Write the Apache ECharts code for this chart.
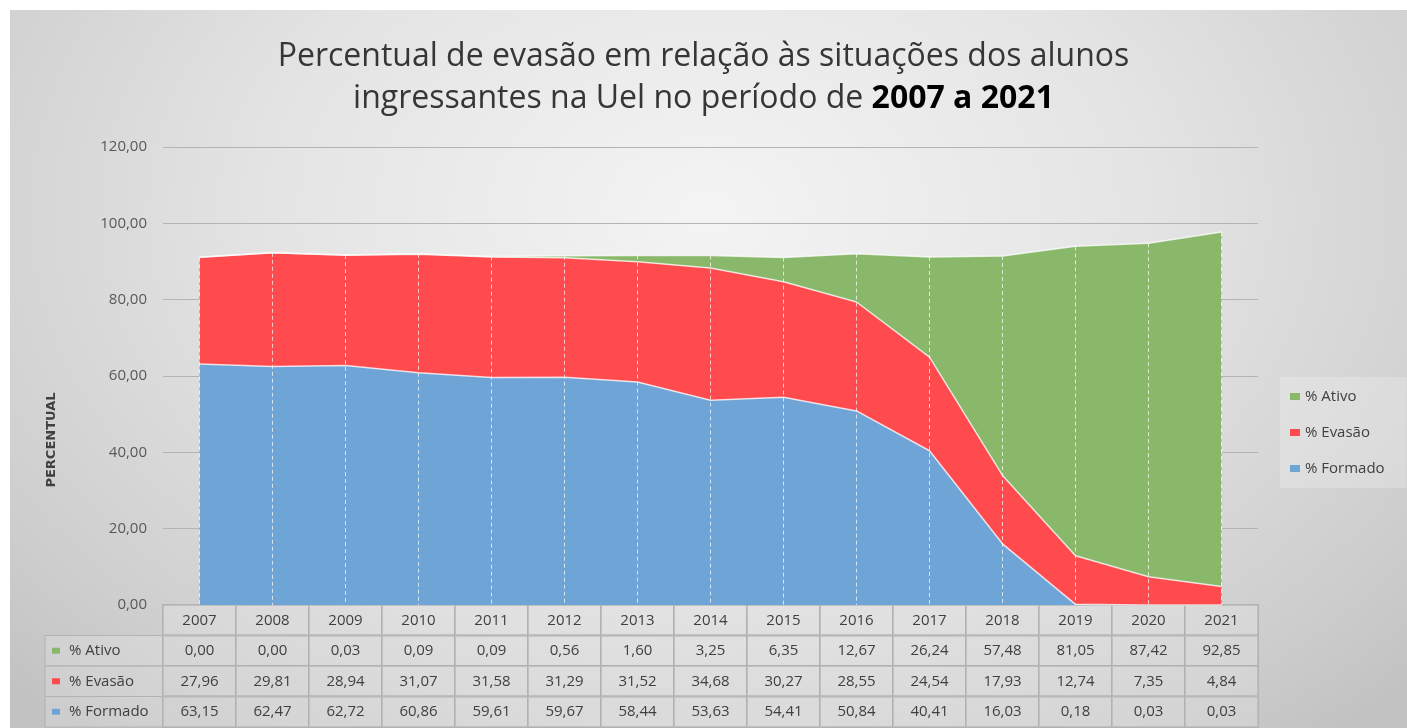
<!DOCTYPE html>
<html>
<head>
<meta charset="utf-8">
<script src="https://cdn.jsdelivr.net/npm/echarts@6.0.0/dist/echarts.min.js"></script>
<style>
  html, body { margin: 0; padding: 0; background: #fff; }
  #fundo {
    position: absolute; left: 10px; top: 10px; width: 1397px; height: 718px;
    background: radial-gradient(ellipse 70% 95% at 50% 28%, #f4f4f4 0%, #e4e4e4 45%, #cdcdcd 85%, #c2c2c2 100%);
  }
  #grafico1 { position: absolute; left: 0; top: 0; width: 1407px; height: 728px; }
</style>
</head>
<body>
<div id="fundo"></div>
<div id="grafico1"></div>
<script>
const anos = ['2007', '2008', '2009', '2010', '2011', '2012', '2013', '2014', '2015', '2016', '2017', '2018', '2019', '2020', '2021'];
const ativo = [0.00, 0.00, 0.03, 0.09, 0.09, 0.56, 1.60, 3.25, 6.35, 12.67, 26.24, 57.48, 81.05, 87.42, 92.85];
const evasao = [27.96, 29.81, 28.94, 31.07, 31.58, 31.29, 31.52, 34.68, 30.27, 28.55, 24.54, 17.93, 12.74, 7.35, 4.84];
const formado = [63.15, 62.47, 62.72, 60.86, 59.61, 59.67, 58.44, 53.63, 54.41, 50.84, 40.41, 16.03, 0.18, 0.03, 0.03];
const nomes = ['% Ativo', '% Evasão', '% Formado'];
const cores = ['#89b86a', '#ff4a4e', '#6fa4d7'];

const fmt = function (v) {
  return v.toFixed(2).replace('.', ',');
};
const totais = anos.map(function (a, i) {
  return +(ativo[i] + evasao[i] + formado[i]).toFixed(2);
});

var dom = document.getElementById('grafico1');
var myChart = echarts.init(dom, null, { renderer: 'canvas' });

const gLeft = 163;
const gRight = 149;
const gBottom = 123;
const colW = (myChart.getWidth() - gLeft - gRight) / anos.length;
const rowH = 30.5;
const eixoY = myChart.getHeight() - gBottom;
const corTexto = '#404040';
const corBorda = '#b2b2b2';
const fonte = 'Open Sans';

// cabeçalho das linhas da tabela (coluna da esquerda)
const cabecalho = [];
nomes.forEach(function (n, k) {
  const y0 = eixoY + rowH * (k + 1);
  cabecalho.push({
    type: 'rect',
    shape: { x: 45, y: y0, width: gLeft - 45, height: rowH },
    style: { fill: 'rgba(255,255,255,0.18)', stroke: corBorda, lineWidth: 1 },
    silent: true,
  });
  cabecalho.push({
    type: 'rect',
    shape: { x: 52, y: y0 + rowH / 2 - 3, width: 8, height: 6 },
    style: { fill: cores[k] },
    silent: true,
  });
  cabecalho.push({
    type: 'text',
    x: 69,
    y: y0 + rowH / 2,
    style: {
      text: n,
      fill: corTexto,
      font: '15px "' + fonte + '"',
      verticalAlign: 'middle',
    },
    silent: true,
  });
});
cabecalho.push({
  type: 'text',
  x: 52,
  y: 440,
  rotation: Math.PI / 2,
  style: {
    text: 'PERCENTUAL',
    fill: corTexto,
    font: 'bold 13px "DejaVu Sans"',
    align: 'center',
    verticalAlign: 'middle',
  },
  silent: true,
});

const celula = {
  width: colW,
  height: rowH,
  lineHeight: rowH,
  align: 'center',
  verticalAlign: 'middle',
  color: corTexto,
  fontSize: 15,
  fontFamily: fonte,
  borderColor: corBorda,
  borderWidth: 1,
  backgroundColor: 'rgba(255,255,255,0.18)',
};

var option = {
  backgroundColor: 'transparent',
  animation: false,
  title: {
    left: 'center',
    top: 31,
    text: '{n|Percentual de evasão em relação às situações dos alunos}\n{n|ingressantes na Uel no período de }{b|2007 a 2021}',
    textStyle: {
      rich: {
        n: { fontSize: 32, fontFamily: fonte, fontWeight: 'normal', color: '#363636', lineHeight: 42 },
        b: { fontSize: 32, fontFamily: fonte, fontWeight: 'bold', color: '#000', lineHeight: 42 },
      },
    },
  },
  legend: {
    orient: 'vertical',
    left: 1280,
    top: 377,
    data: nomes,
    itemWidth: 10,
    itemHeight: 7,
    itemGap: 21,
    icon: 'rect',
    padding: [12, 22, 12, 10],
    backgroundColor: 'rgba(255,255,255,0.22)',
    textStyle: { color: corTexto, fontSize: 15, fontFamily: fonte },
  },
  grid: { left: gLeft, right: gRight, top: 147, bottom: gBottom },
  xAxis: {
    type: 'category',
    data: anos,
    boundaryGap: true,
    axisTick: { show: false },
    axisLine: { lineStyle: { color: '#595959', width: 2 } },
    axisLabel: {
      interval: 0,
      margin: 0,
      hideOverlap: false,
      formatter: function (v, i) {
        return '{c|' + v + '}\n{c|' + fmt(ativo[i]) + '}\n{c|' + fmt(evasao[i]) + '}\n{c|' + fmt(formado[i]) + '}';
      },
      rich: { c: celula },
    },
  },
  yAxis: {
    type: 'value',
    min: 0,
    max: 120,
    interval: 20,
    axisLine: { show: false },
    axisTick: { show: false },
    axisLabel: {
      margin: 16,
      color: '#595959',
      fontSize: 15,
      fontFamily: fonte,
      formatter: fmt,
    },
    splitLine: { lineStyle: { color: '#b4b4b4', width: 1 } },
  },
  graphic: cabecalho,
  series: [
    {
      name: '% Formado',
      type: 'line',
      stack: 'total',
      data: formado,
      symbol: 'none',
      itemStyle: { color: cores[2] },
      lineStyle: { color: 'rgba(255,255,255,0.75)', width: 1.5 },
      areaStyle: { color: cores[2], opacity: 1 },
    },
    {
      name: '% Evasão',
      type: 'line',
      stack: 'total',
      data: evasao,
      symbol: 'none',
      itemStyle: { color: cores[1] },
      lineStyle: { color: 'rgba(255,255,255,0.75)', width: 1.5 },
      areaStyle: { color: cores[1], opacity: 1 },
    },
    {
      name: '% Ativo',
      type: 'line',
      stack: 'total',
      data: ativo,
      symbol: 'none',
      itemStyle: { color: cores[0] },
      lineStyle: { color: 'rgba(255,255,255,0.75)', width: 1.5 },
      areaStyle: { color: cores[0], opacity: 1 },
    },
    {
      // linhas de projeção tracejadas
      name: 'projecao',
      type: 'custom',
      silent: true,
      z: 5,
      data: totais.map(function (t, i) {
        return [i, t];
      }),
      renderItem: function (params, api) {
        const topo = api.coord([api.value(0), api.value(1)]);
        const base = api.coord([api.value(0), 0]);
        return {
          type: 'line',
          shape: { x1: topo[0], y1: topo[1], x2: base[0], y2: base[1] },
          style: { stroke: 'rgba(255,255,255,0.7)', lineWidth: 1, lineDash: [4, 3] },
        };
      },
    },
  ],
};

if (option && typeof option === 'object') {
  myChart.setOption(option);
}

window.addEventListener('resize', myChart.resize);
</script>
</body>
</html>
